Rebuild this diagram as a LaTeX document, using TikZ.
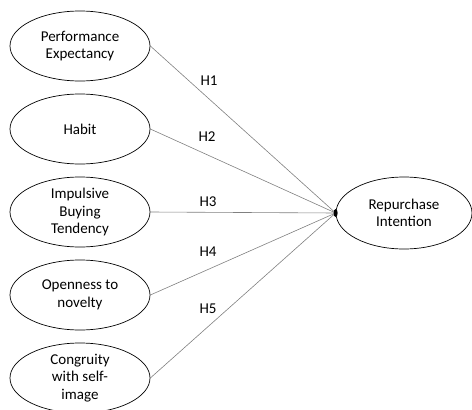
\documentclass[tikz,border=0pt]{standalone}
\usepackage{fontspec}
\setmainfont{Carlito}
\usepackage{tikz}
\usetikzlibrary{shapes.geometric, positioning}
\tikzstyle{construct} = [ellipse, minimum width=140pt, minimum height=70pt, inner sep=0pt, text centered, draw=black, line width=0.7pt, font=\fontsize{15}{17.5}\selectfont]
\tikzstyle{link}      = [draw=gray, line width=0.6pt]
\tikzstyle{hyp}       = [font=\fontsize{15}{17}\selectfont]
\tikzset{every node/.style={align=center}}

\begin{document}
\begin{tikzpicture}[x=1pt, y=1pt, node distance=83pt]
    \useasboundingbox (0,0) rectangle (472,-410);
    \node (pe)  [construct] at (80,-46)    {Performance\\Expectancy};
    \node (hab) [construct, below of=pe]   {Habit};
    \node (ibt) [construct, below of=hab]  {Impulsive\\Buying\\Tendency};
    \node (otn) [construct, below of=ibt]  {Openness to\\novelty};
    \node (cws) [construct, below of=otn]  {Congruity\\with self-\\image};
    \node (ri)  [construct, minimum width=136pt, minimum height=72pt] at (404,-213) {Repurchase\\Intention};
    \coordinate (hub) at (ri.west);

    \draw [link] (pe.east)  -- (hub);
    \draw [link] (hab.east) -- (hub);
    \draw [link] (ibt.east) -- (hub);
    \draw [link] (otn.east) -- (hub);
    \draw [link] (cws.east) -- (hub);
    \fill (hub) ellipse (2pt and 4pt);

    \node (h1) [hyp] at (209,-81)  {H1};
    \node (h2) [hyp] at (207,-137) {H2};
    \node (h3) [hyp] at (208,-202) {H3};
    \node (h4) [hyp] at (208,-252) {H4};
    \node (h5) [hyp] at (208,-309) {H5};
\end{tikzpicture}
\end{document}
